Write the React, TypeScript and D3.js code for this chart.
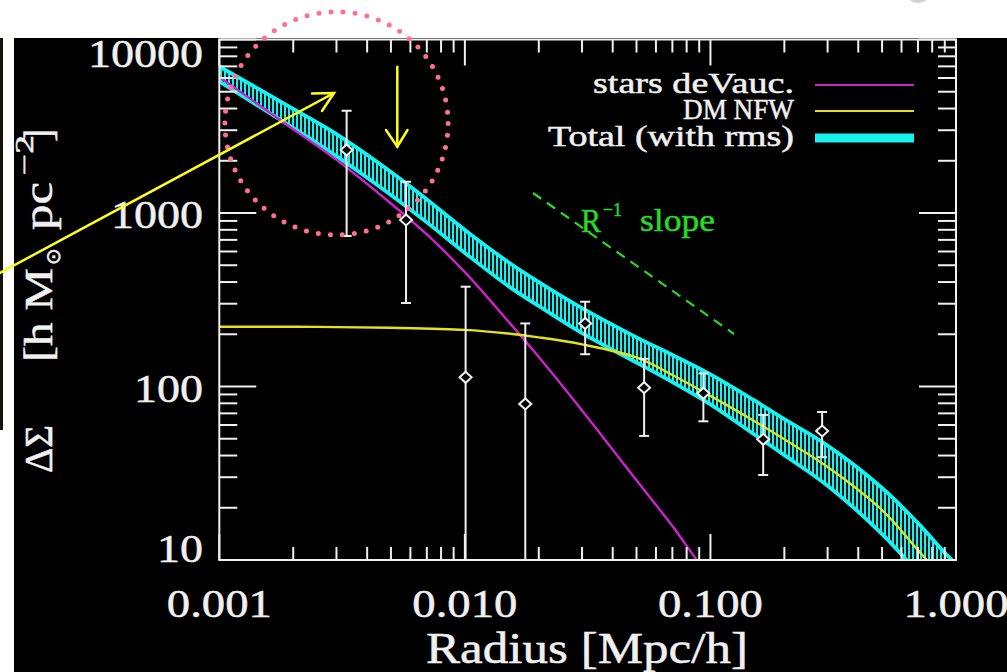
import React from "react";
import * as d3 from "d3";

const W = 1007;
const H = 672;

// Measured excess surface density: radius [Mpc/h], ΔΣ and error-bar bounds
const radius = [0.0033, 0.00576, 0.01007, 0.01762, 0.0309, 0.0537, 0.0936, 0.164, 0.285];
const deltaSigma = [2307, 912, 113, 79.3, 231, 98.4, 91.4, 49.6, 55.4];
const errHigh = [3890, 1514, 376, 231, 308, 144.5, 119, 68.6, 71.3];
const errLow: (number | null)[] = [736, 303, null, null, 153.5, 51.9, 63, 30.9, 39.1];

// Stellar de Vaucouleurs component
const starsR = [0.001, 0.002, 0.003, 0.005, 0.007, 0.01, 0.015, 0.02, 0.03, 0.05, 0.07, 0.085, 0.095];
const starsSigma = [6081, 3041, 2028, 1135, 752, 456, 238, 148, 72.8, 28.8, 15.7, 10.7, 8.6];

// Dark-matter NFW component
const nfwR = [0.001, 0.002, 0.003, 0.005, 0.01, 0.015, 0.02, 0.03, 0.05, 0.07, 0.1, 0.15, 0.2, 0.3, 0.5, 0.7, 0.8, 0.9];
const nfwSigma = [221, 221, 220, 218, 212, 202, 192, 175, 147, 116.5, 88.3, 63.5, 49.6, 34.4, 19.4, 11.4, 9.2, 7.5];

// Total model with rms envelope
const totalR = [0.001, 0.002, 0.003, 0.005, 0.007, 0.01, 0.015, 0.02, 0.03, 0.05, 0.07, 0.1, 0.15, 0.2, 0.3, 0.5, 0.7, 0.9, 1.0];
const totalHigh = [6990, 3981, 2846, 1723, 1198, 799, 522, 400, 283, 192, 152, 117.4, 83.6, 64.8, 45.6, 26.0, 16.3, 11.0, 9.5];
const totalLow = [5728, 3094, 2126, 1270, 883, 589, 380, 291, 203, 137.5, 106, 78.9, 53.2, 40.2, 26.8, 14.1, 8.4, 5.4, 4.5];

// Axis labels
const xTickValues = [0.001, 0.01, 0.1, 1];
const xTickLabels = ["0.001", "0.010", "0.100", "1.000"];
const yTickValues = [10, 100, 1000, 10000];
const yTickLabels = ["10", "100", "1000", "10000"];

const legendLabels = ["stars deVauc.", "DM NFW", "Total (with rms)"];

const FONT = "'Liberation Serif', 'Times New Roman', serif";
const WHITE = "#f0f0f0";
const MAGENTA = "#cc22cc";
const YELLOW = "#e2e21e";
const CYAN = "#19f0f0";
const GREEN = "#2ad82a";
const PINK = "#ff6f91";
const ARROW = "#ffff1a";

const L = 219.3, R = 956, T = 39.5, B = 560;

export default function App() {
  const x = d3.scaleLog().domain([0.001, 1]).range([L, R]);
  const y = d3.scaleLog().domain([10, 10000]).range([B, T]);

  const isMajor = (v: number) => Math.abs(Math.log10(v) - Math.round(Math.log10(v))) < 1e-6;
  const xt = x.ticks();
  const yt = y.ticks();

  const line = d3
    .line<[number, number]>()
    .x((d) => x(d[0]))
    .y((d) => y(d[1]))
    .curve(d3.curveCatmullRom.alpha(0.5));

  const band = d3
    .area<number>()
    .x((_, i) => x(totalR[i]))
    .y0((_, i) => y(totalLow[i]))
    .y1((_, i) => y(totalHigh[i]))
    .curve(d3.curveCatmullRom.alpha(0.5));

  const starsPath = line(starsR.map((r, i) => [r, starsSigma[i]]));
  const nfwPath = line(nfwR.map((r, i) => [r, nfwSigma[i]]));
  const upperPath = line(totalR.map((r, i) => [r, totalHigh[i]]));
  const lowerPath = line(totalR.map((r, i) => [r, totalLow[i]]));
  const bandPath = band(totalR);

  const circleR = 111.6;
  const dotGap = (2 * Math.PI * circleR) / 58;

  const textInk = { stroke: WHITE, strokeWidth: 0.5 };

  return (
    <svg
      width={W}
      height={H}
      style={{ position: "absolute", left: 0, top: 0, display: "block" }}
      fontFamily={FONT}
    >
      <defs>
        <clipPath id="plot">
          <rect x={L} y={T} width={R - L} height={B - T} />
        </clipPath>
        <pattern id="hatch" width="4" height="8" patternUnits="userSpaceOnUse">
          <rect x="0" y="0" width="2.1" height="8" fill={CYAN} />
        </pattern>
      </defs>

      {/* page backdrop */}
      <rect x={0} y={0} width={W} height={H} fill="#ffffff" />
      <rect x={14} y={38} width={W - 14} height={H - 38} fill="#000000" />
      <rect x={0} y={38} width={3} height={392} fill="#15130a" />
      <ellipse cx={918} cy={-7} rx={12} ry={10} fill="#d0d0d0" />

      {/* model curves */}
      <g clipPath="url(#plot)">
        <path d={bandPath || ""} fill="url(#hatch)" />
        <path d={upperPath || ""} fill="none" stroke={CYAN} strokeWidth={3.8} />
        <path d={lowerPath || ""} fill="none" stroke={CYAN} strokeWidth={3.8} />
        <path d={starsPath || ""} fill="none" stroke={MAGENTA} strokeWidth={2.4} />
        <path d={nfwPath || ""} fill="none" stroke={YELLOW} strokeWidth={2.4} />
      </g>

      {/* measurements */}
      <g clipPath="url(#plot)" stroke={WHITE} strokeWidth={2}>
        {radius.map((r, i) => {
          const cx = x(r);
          const top = y(errHigh[i]);
          const lowV = errLow[i];
          const bot = lowV == null ? B : y(lowV);
          const cy = y(deltaSigma[i]);
          return (
            <g key={i}>
              <line x1={cx} x2={cx} y1={top} y2={bot} />
              <line x1={cx - 5} x2={cx + 5} y1={top} y2={top} />
              {lowV != null && <line x1={cx - 5} x2={cx + 5} y1={bot} y2={bot} />}
              <path
                d={`M${cx - 6},${cy} L${cx},${cy - 5.5} L${cx + 6},${cy} L${cx},${cy + 5.5} Z`}
                fill="#000"
              />
            </g>
          );
        })}
      </g>

      {/* frame and ticks */}
      <g stroke={WHITE} strokeWidth={2}>
        <rect x={L} y={T} width={R - L} height={B - T} fill="none" />
        {xt.map((t, i) => {
          const len = isMajor(t) ? 26 : 13;
          const px = x(t);
          return (
            <g key={"x" + i}>
              <line x1={px} x2={px} y1={B} y2={B - len} />
              <line x1={px} x2={px} y1={T} y2={T + len} />
            </g>
          );
        })}
        {yt.map((t, i) => {
          const len = isMajor(t) ? 37 : 18;
          const py = y(t);
          return (
            <g key={"y" + i}>
              <line x1={L} x2={L + len} y1={py} y2={py} />
              <line x1={R} x2={R - len} y1={py} y2={py} />
            </g>
          );
        })}
      </g>

      {/* tick labels */}
      <g fill={WHITE} fontSize={40} {...textInk}>
        {xTickValues.map((t, i) => (
          <text key={"xl" + i} x={x(t)} y={617} textAnchor="middle" textLength={105} lengthAdjust="spacingAndGlyphs">
            {xTickLabels[i]}
          </text>
        ))}
        {yTickValues.map((t, i) => (
          <text
            key={"yl" + i}
            x={203}
            y={Math.min(562, Math.max(67, y(t) + 15))}
            textAnchor="end"
            textLength={23 * yTickLabels[i].length}
            lengthAdjust="spacingAndGlyphs"
          >
            {yTickLabels[i]}
          </text>
        ))}
      </g>

      {/* axis titles */}
      <text x={587} y={663} fill={WHITE} fontSize={45} textAnchor="middle" textLength={322} lengthAdjust="spacingAndGlyphs" {...textInk}>
        Radius [Mpc/h]
      </text>
      <g transform="translate(52,0) rotate(-90)" fill={WHITE} {...textInk}>
        <text x={-473} y={0} fontSize={40} textLength={48} lengthAdjust="spacingAndGlyphs">ΔΣ</text>
        <text x={-362} y={0} fontSize={40} textLength={94} lengthAdjust="spacingAndGlyphs">[h M</text>
        <text x={-265} y={8} fontSize={20} fontFamily="'DejaVu Sans', sans-serif">⊙</text>
        <text x={-230} y={0} fontSize={40} textLength={48} lengthAdjust="spacingAndGlyphs">pc</text>
        <text x={-175} y={-19} fontSize={26} textLength={40} lengthAdjust="spacingAndGlyphs">−2</text>
        <text x={-142} y={0} fontSize={40}>]</text>
      </g>

      {/* legend */}
      <g fontSize={29} fill={WHITE} textAnchor="end" {...textInk}>
        <text x={794} y={93} textLength={201} lengthAdjust="spacingAndGlyphs">{legendLabels[0]}</text>
        <text x={794} y={119} textLength={111} lengthAdjust="spacingAndGlyphs">{legendLabels[1]}</text>
        <text x={794} y={146} textLength={246} lengthAdjust="spacingAndGlyphs">{legendLabels[2]}</text>
      </g>
      <line x1={815} x2={914} y1={85} y2={85} stroke={MAGENTA} strokeWidth={2.2} />
      <line x1={815} x2={914} y1={111} y2={111} stroke={YELLOW} strokeWidth={2.2} />
      <line x1={815} x2={914} y1={138} y2={138} stroke={CYAN} strokeWidth={9} />

      {/* slope guide */}
      <line x1={533} y1={193} x2={734} y2={334} stroke={GREEN} strokeWidth={2.2} strokeDasharray="10 7" />
      <g fill={GREEN} stroke={GREEN} strokeWidth={0.5}>
        <text x={581} y={232} fontSize={34} textLength={20} lengthAdjust="spacingAndGlyphs">R</text>
        <text x={603} y={216} fontSize={19} textLength={19} lengthAdjust="spacingAndGlyphs">−1</text>
        <text x={640} y={231} fontSize={32} textLength={75} lengthAdjust="spacingAndGlyphs">slope</text>
      </g>

      {/* highlight annotations */}
      <circle
        cx={336.5}
        cy={123.4}
        r={circleR}
        fill="none"
        stroke={PINK}
        strokeWidth={5}
        strokeLinecap="round"
        strokeDasharray={`0 ${dotGap}`}
      />
      <g stroke={ARROW} strokeWidth={2.5} fill="none" strokeLinecap="round">
        <line x1={-2} y1={274} x2={334} y2={93} />
        <polyline points="312,93.5 334,93 322,111" />
        <line x1={397.3} y1={66.7} x2={397.3} y2={146.7} />
        <polyline points="386,130 397.3,146.7 407.5,130" />
      </g>
    </svg>
  );
}
